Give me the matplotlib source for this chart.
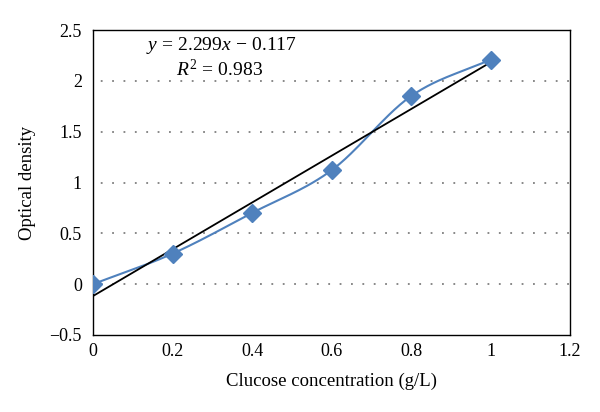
# Glucose calibration curve: optical density vs concentration
import numpy as np
import matplotlib
matplotlib.use('Agg')
import matplotlib.pyplot as plt

# data
conc = [0.0, 0.2, 0.4, 0.6, 0.8, 1.0]
od = [0.0, 0.30, 0.70, 1.12, 1.85, 2.21]

# linear trend shown on the chart
slope = 2.299
intercept = -0.117

x_ticks = [0, 0.2, 0.4, 0.6, 0.8, 1, 1.2]
x_tick_labels = ['0', '0.2', '0.4', '0.6', '0.8', '1', '1.2']
y_ticks = [-0.5, 0, 0.5, 1, 1.5, 2, 2.5]
y_tick_labels = ['\u22120.5', '0', '0.5', '1', '1.5', '2', '2.5']

plt.rcParams['font.family'] = 'Liberation Serif'
plt.rcParams['mathtext.fontset'] = 'custom'
plt.rcParams['mathtext.rm'] = 'Liberation Serif'
plt.rcParams['mathtext.it'] = 'Liberation Serif:italic'


def smooth(xs, ys, n=30):
    # Catmull-Rom style smoothing like a spreadsheet "smoothed line"
    xs = np.asarray(xs, float)
    ys = np.asarray(ys, float)
    px = np.concatenate([[2 * xs[0] - xs[1]], xs, [2 * xs[-1] - xs[-2]]])
    py = np.concatenate([[2 * ys[0] - ys[1]], ys, [2 * ys[-1] - ys[-2]]])
    out_x, out_y = [], []
    t = np.linspace(0, 1, n)
    for i in range(1, len(px) - 2):
        for arr, out in ((px, out_x), (py, out_y)):
            p0, p1, p2, p3 = arr[i - 1], arr[i], arr[i + 1], arr[i + 2]
            seg = 0.5 * (2 * p1 + (-p0 + p2) * t
                         + (2 * p0 - 5 * p1 + 4 * p2 - p3) * t ** 2
                         + (-p0 + 3 * p1 - 3 * p2 + p3) * t ** 3)
            out.extend(seg)
    return out_x, out_y


fig = plt.figure(figsize=(6, 4.12), dpi=100)
ax = fig.add_axes([0.155, 0.187, 0.795, 0.74])

# dotted horizontal gridlines
for yv in [0, 0.5, 1, 1.5, 2]:
    ax.axhline(yv, color='#7f7f7f', linestyle=(2, (1, 5.3)), linewidth=1.3, zorder=1)

sx, sy = smooth(conc, od)
ax.plot(sx, sy, color='#4F81BD', linewidth=1.5, zorder=2)
ax.plot(conc, od, linestyle='none', marker='D', markersize=9,
        color='#4F81BD', zorder=4)

fit_x = np.array([conc[0], conc[-1]])
ax.plot(fit_x, slope * fit_x + intercept, color='black', linewidth=1.3, zorder=3)

ax.set_xlim(0, 1.2)
ax.set_ylim(-0.5, 2.5)
ax.set_xticks(x_ticks)
ax.set_xticklabels(x_tick_labels)
ax.set_yticks(y_ticks)
ax.set_yticklabels(y_tick_labels)
ax.tick_params(axis='x', length=0, labelsize=13, pad=6)
ax.tick_params(axis='y', length=0, labelsize=13, pad=8)
for s in ax.spines.values():
    s.set_linewidth(1.0)

ax.set_xlabel('Clucose concentration (g/L)', fontsize=13.5, labelpad=9)
ax.set_ylabel('Optical density', fontsize=13.5, labelpad=10)

ax.text(0.27, 0.948, r'$y\,=\,2.299x\,-\,0.117$', transform=ax.transAxes,
        ha='center', va='center', fontsize=14)
ax.text(0.265, 0.872, r'$R^2\,=\,0.983$', transform=ax.transAxes,
        ha='center', va='center', fontsize=14)

fig.savefig('out.png', dpi=100)
